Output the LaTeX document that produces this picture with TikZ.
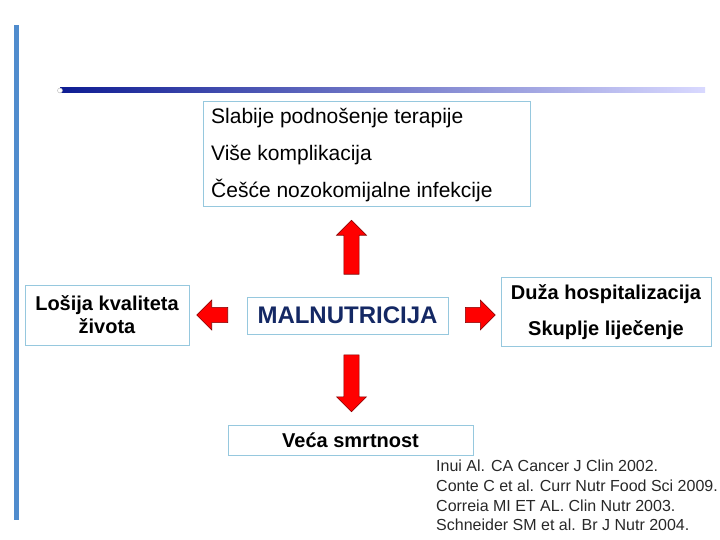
\documentclass[tikz,border=0pt]{standalone}
\usepackage{fontspec}
\setmainfont{Liberation Sans}
\usetikzlibrary{shapes.arrows}
\definecolor{boxline}{RGB}{150,200,222}
\definecolor{navy}{RGB}{20,40,100}
\definecolor{barblue}{RGB}{80,140,205}
\definecolor{refgray}{RGB}{40,40,40}
\tikzset{
  infobox/.style={draw=boxline, line width=0.8pt, inner sep=0pt},
  redarrow/.style={single arrow, draw=red!50!black, fill=red, line width=0.6pt,
    minimum width=30pt, single arrow tip angle=90,
    inner sep=7pt, minimum height=#1},
  redarrow/.default=50pt
}
\begin{document}
\begin{tikzpicture}[x=1pt, y=-1pt]
    \useasboundingbox (0,0) rectangle (720,540);
    % frame
    \fill[barblue] (14,25) rectangle (19,520);
    \shade[left color=navy!70!blue, middle color=blue!60, right color=blue!15] (60,88) rectangle (705,93);
    \draw[gray!60, fill=white] (60,90.5) circle (2.5);

    \node[infobox, minimum width=327pt, minimum height=105pt] (effects) at (366.5,153.5) {};
    \node[anchor=west, inner sep=0pt, font=\fontsize{21}{24}\selectfont] (t1) at (211,118) {Slabije podnošenje terapije};
    \node[anchor=west, inner sep=0pt, font=\fontsize{21}{24}\selectfont] (t2) at (211,155) {Više komplikacija};
    \node[anchor=west, inner sep=0pt, font=\fontsize{21}{24}\selectfont] (t3) at (211,191) {Češće nozokomijalne infekcije};

    \node[infobox, minimum width=201pt, minimum height=37pt, text=navy,
      font=\bfseries\fontsize{24}{28}\selectfont] (malnut) at (347.5,315.5) {MALNUTRICIJA};

    \node[infobox, minimum width=164pt, minimum height=60pt, align=center,
      font=\bfseries\fontsize{20}{23}\selectfont] (life) at (107,315) {Lošija kvaliteta\\života};

    \node[infobox, minimum width=210pt, minimum height=69pt] (cost) at (606,311.5) {};
    \node[font=\bfseries\fontsize{20}{22}\selectfont] (c1) at (606,294) {Duža hospitalizacija};
    \node[font=\bfseries\fontsize{20}{22}\selectfont] (c2) at (606,330) {Skuplje liječenje};

    \node[infobox, minimum width=245pt, minimum height=30pt] (death) at (350.5,440) {};
    \node[anchor=west, inner sep=0pt, font=\bfseries\fontsize{20}{22}\selectfont] (d1) at (282,440) {Veća smrtnost};

    % arrows
    \node[redarrow=54pt, shape border rotate=90] (up) at (351.5,251) {};
    \node[redarrow=57pt, shape border rotate=270] (down) at (351.5,379.5) {};
    \node[redarrow=31pt, shape border rotate=180] (left) at (216,315) {};
    \node[redarrow=30pt] (right) at (476.5,315) {};

    % references
    \node[anchor=north west, align=left, text=refgray, inner sep=0pt,
      font=\fontsize{16}{19.7}\selectfont] (refs) at (436,460)
      {Inui Al. CA Cancer J Clin 2002.\\Conte C et al. Curr Nutr Food Sci 2009.\\Correia MI ET AL. Clin Nutr 2003.\\Schneider SM et al. Br J Nutr 2004.};
\end{tikzpicture}
\end{document}
